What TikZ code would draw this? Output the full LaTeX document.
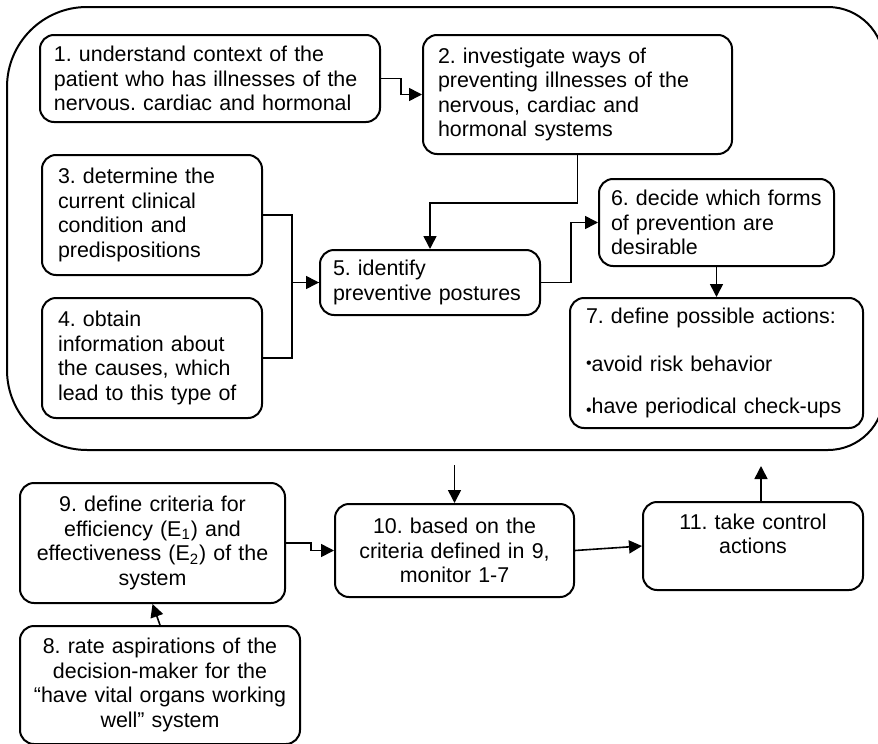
\documentclass[tikz,border=0pt]{standalone}
\usepackage{fontspec}
\setmainfont{Liberation Sans}
\usetikzlibrary{arrows.meta,positioning,calc}
\frenchspacing

\tikzset{
  stepbox/.style={draw, line width=1pt, rounded corners=7pt, inner xsep=7pt, inner ysep=0pt,
    align=left, font=\fontsize{10.7}{12.25}\selectfont},
  midbox/.style={stepbox, align=center},
  flow/.style={-{Triangle[length=6.5pt,width=6.5pt]}, line width=0.8pt},
}

\begin{document}
\begin{tikzpicture}[x=1pt,y=1pt]
\useasboundingbox (0,0) rectangle (439,-372);

% outer frame round steps 1-7
\draw[line width=1pt] (43.5,-3.5) -- (414,-3.5) arc[start angle=90,end angle=0,radius=28]
  -- (442,-197) arc[start angle=0,end angle=-90,radius=28]
  -- (43.5,-225) arc[start angle=270,end angle=180,radius=40]
  -- (3.5,-43.5) arc[start angle=180,end angle=90,radius=40] -- cycle;

% steps inside the frame
\node[stepbox, text width=156pt, minimum height=43.5pt] (context) at (105,-39.25)
  {1. understand context of the\\patient who has illnesses of the\\nervous. cardiac and hormonal};
\node[stepbox, inner xsep=7.5pt, text width=139.5pt, minimum height=59.5pt] (ways) at (288.75,-47.25)
  {2. investigate ways of\\preventing illnesses of the\\nervous, cardiac and\\hormonal systems};
\node[stepbox, inner xsep=8pt, text width=94pt, minimum height=60pt] (condition) at (76,-107.5)
  {3. determine the\\current clinical\\condition and\\predispositions};
\node[stepbox, inner xsep=8pt, text width=94pt, minimum height=60pt] (causes) at (76,-179)
  {4. obtain\\information about\\the causes, which\\lead to this type of};
\node[stepbox, inner xsep=6.5pt, text width=97pt, minimum height=32.5pt] (postures) at (215,-141.25)
  {5. identify\\preventive postures};
\node[stepbox, inner xsep=6pt, text width=105.5pt, minimum height=43.5pt] (forms) at (358.25,-111.25)
  {6. decide which forms\\of prevention are\\desirable};
\node[stepbox, inner xsep=8pt, text width=130.5pt, minimum height=65pt] (actions) at (358.25,-181.5)
  {7. define possible actions:\\[11.75pt]{\footnotesize\raisebox{.35ex}{•}}avoid risk behavior\\[8.75pt]{\footnotesize\raisebox{-.2ex}{•}}have periodical check-ups};

% steps below the frame
\node[midbox, inner xsep=6.25pt, text width=120pt, minimum height=60pt] (criteria) at (76.25,-271.5)
  {9. define criteria for\\efficiency (E\textsubscript{1}) and\\effectiveness (E\textsubscript{2}) of the\\system};
\node[midbox, inner xsep=6pt, text width=128pt, minimum height=59pt] (rate) at (80,-342.5)
  {8. rate aspirations of the\\decision-maker for the\\“have vital organs working\\well” system};
\node[midbox, inner xsep=6pt, text width=107.5pt, minimum height=46.5pt] (monitor) at (227.25,-275.25)
  {10. based on the\\criteria defined in 9,\\monitor 1-7};
\node[midbox, inner xsep=6pt, text width=98pt, minimum height=44pt] (control) at (376.5,-273)
  {11. take control\\actions\\\mbox{}};

% connectors
\draw[flow] (context.east) -- ++(10,0) |- (ways.west);
\draw[flow] (ways.south) -- ++(0,-24) -| (postures.north);
\draw[flow] (condition.east) -- ++(14.5,0) |- (postures.west);
\draw[line width=0.8pt] (causes.east) -- ++(14.5,0) |- (postures.west);
\draw[flow] (postures.east) -- ++(15,0) |- (forms.west);
\draw[flow] (forms.south) -- (actions.north);
\draw[flow] (rate.north) -- (criteria.south);
\draw[flow] (criteria.east) -- ++(12.5,0) |- (monitor.west);
\draw[flow] (monitor.east) -- (control.west);
\coordinate (fromframe) at ([yshift=19pt]monitor.north);
\draw[flow] (fromframe) -- (monitor.north);
\coordinate (toframe) at ([xshift=4pt,yshift=17.5pt]control.north);
\draw[flow] ([xshift=4pt]control.north) -- (toframe);
\end{tikzpicture}
\end{document}
